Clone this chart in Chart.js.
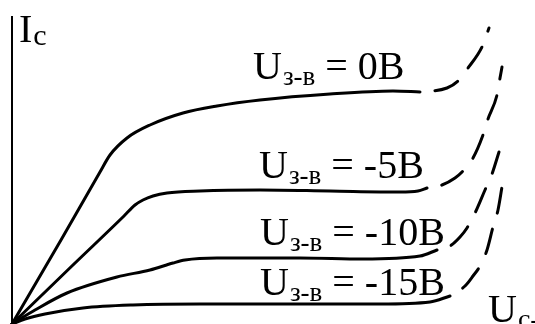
<!DOCTYPE html>
<html>
<head>
<meta charset="utf-8">
<script src="https://cdn.jsdelivr.net/npm/chart.js@4/dist/chart.umd.min.js"></script>
<style>
  html, body { margin: 0; padding: 0; background: #fff; }
  canvas { display: block; }
</style>
</head>
<body>
<canvas id="chart" width="535" height="324"></canvas>
<script>
// Gate-source voltages of the family of drain characteristics, V
const gateVoltages = ['0', '-5', '-10', '-15'];

// Working region (solid), drain voltage Uc and drain current Ic, arbitrary units
const uc0 = [0, 4.9, 8.8, 9.8, 11.5, 13.8, 17.1, 20.5, 24.8, 31.8, 38.1, 40.8];
const ic0 = [0, 8.4, 15.2, 16.9, 18.6, 19.9, 21.1, 21.8, 22.4, 23.0, 23.3, 23.2];

const uc5 = [0, 6.2, 11.2, 12.3, 13.1, 14.1, 15.5, 18.8, 24.8, 31.8, 38.8, 40.6, 41.5];
const ic5 = [0, 6.0, 10.8, 11.9, 12.4, 12.8, 13.1, 13.3, 13.4, 13.3, 13.2, 13.3, 13.6];

const uc10 = [0, 2.3, 5.5, 10.5, 13.8, 16.1, 17.3, 20.5, 28.8, 35.1, 40.8, 42.5];
const ic10 = [0, 1.4, 3.1, 4.7, 5.4, 6.1, 6.4, 6.6, 6.6, 6.5, 6.8, 7.4];

const uc15 = [0, 1.3, 3.3, 7.1, 12.1, 18.8, 28.8, 36.8, 41.8, 43.8];
const ic15 = [0, 0.5, 1.0, 1.6, 1.9, 2.0, 2.0, 2.0, 2.2, 2.8];

// Breakdown region (dashed)
const uc0b = [40.8, 43.5, 44.6, 45.6, 47.0, 47.7];
const ic0b = [23.2, 23.6, 24.3, 25.6, 27.7, 29.6];

const uc5b = [41.5, 43.0, 44.3, 45.0, 46.1, 47.1, 47.6, 48.5, 48.8, 49.0];
const ic5b = [13.6, 13.9, 14.6, 15.2, 16.6, 18.9, 20.5, 22.9, 24.6, 25.7];

const uc10b = [42.5, 43.8, 44.8, 45.5, 46.3, 47.3, 48.0, 48.7];
const ic10b = [7.4, 7.8, 8.7, 9.6, 11.1, 13.4, 15.0, 17.2];

const uc15b = [43.8, 45.3, 46.1, 46.8, 47.5, 48.1, 48.6, 49.0];
const ic15b = [2.8, 3.8, 4.8, 5.8, 7.4, 9.7, 11.4, 13.7];

const solidSets = [[uc0, ic0], [uc5, ic5], [uc10, ic10], [uc15, ic15]];
const dashedSets = [[uc0b, ic0b], [uc5b, ic5b], [uc10b, ic10b], [uc15b, ic15b]];

function toPoints(xs, ys) {
  return xs.map((x, i) => ({ x: x, y: ys[i] }));
}

const datasets = [];
solidSets.forEach(([xs, ys], i) => {
  datasets.push({
    label: 'Uз-в = ' + gateVoltages[i] + 'В',
    data: toPoints(xs, ys),
    borderColor: '#000',
    borderWidth: 3,
    pointRadius: 0,
    cubicInterpolationMode: 'monotone',
    borderCapStyle: 'round',
    clip: false
  });
});
dashedSets.forEach(([xs, ys], i) => {
  datasets.push({
    label: 'breakdown ' + gateVoltages[i],
    data: toPoints(xs, ys),
    borderColor: '#000',
    borderWidth: 3,
    pointRadius: 0,
    cubicInterpolationMode: 'monotone',
    borderDash: [25, 17],
    borderDashOffset: 27,
    borderCapStyle: 'round',
    clip: false
  });
});

// Text labels: main part, subscript, tail, anchored in data units
const serif = '"Liberation Serif", "Times New Roman", serif';
const curveLabelAnchors = [
  { x: 24.1, y: 24.5 },
  { x: 24.7, y: 14.6 },
  { x: 24.8, y: 7.9 },
  { x: 24.8, y: 2.9 }
];
const textLabels = curveLabelAnchors.map((a, i) => ({
  x: a.x, y: a.y, main: 'U', sub: 'з-в', tail: ' = ' + gateVoltages[i] + 'В', subSize: 27, subShift: 6
}));
textLabels.push({ x: 0.7, y: 28.2, main: 'I', sub: 'с', tail: '', subSize: 30, subShift: 3 });
textLabels.push({ x: 47.6, y: 0.2, main: 'U', sub: 'с-', tail: '', subSize: 28, subShift: 6 });

const labelPlugin = {
  id: 'curveLabels',
  afterDatasetsDraw(chart) {
    const ctx = chart.ctx;
    const xs = chart.scales.x, ys = chart.scales.y;
    ctx.save();
    ctx.fillStyle = '#000';
    ctx.textBaseline = 'alphabetic';
    ctx.textAlign = 'left';
    textLabels.forEach(l => {
      let px = xs.getPixelForValue(l.x);
      const py = ys.getPixelForValue(l.y);
      ctx.font = '40px ' + serif;
      ctx.fillText(l.main, px, py);
      px += ctx.measureText(l.main).width;
      ctx.font = l.subSize + 'px ' + serif;
      ctx.fillText(l.sub, px + 1, py + l.subShift);
      px += ctx.measureText(l.sub).width + 1;
      if (l.tail) {
        ctx.font = '40px ' + serif;
        ctx.fillText(l.tail, px, py);
      }
    });
    ctx.restore();
  }
};

new Chart(document.getElementById('chart'), {
  type: 'line',
  data: { datasets: datasets },
  options: {
    responsive: false,
    animation: false,
    devicePixelRatio: 1,
    layout: { padding: { left: 12, top: 17, right: 0, bottom: 0 } },
    plugins: { legend: { display: false }, tooltip: { enabled: false } },
    scales: {
      x: { type: 'linear', min: 0, max: 52.3, display: false },
      y: {
        type: 'linear', min: 0, max: 30.7,
        ticks: { display: false },
        grid: { display: false, drawTicks: false, tickLength: 0 },
        border: { display: true, color: '#000', width: 2 }
      }
    }
  },
  plugins: [labelPlugin]
});
</script>
</body>
</html>
